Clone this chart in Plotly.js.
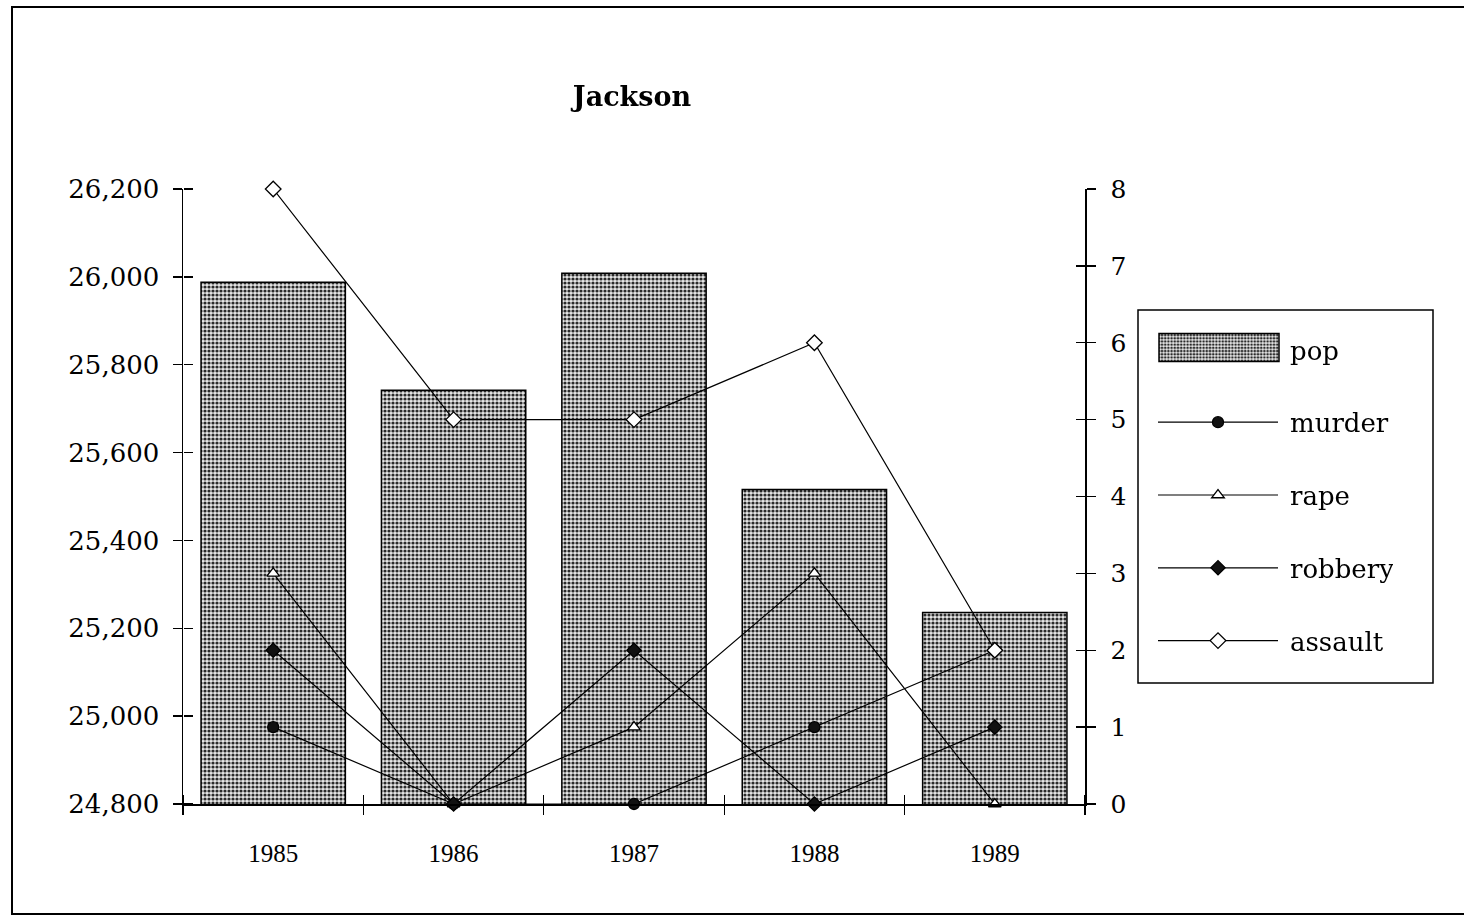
<!DOCTYPE html>
<html>
<head>
<meta charset="utf-8">
<script src="https://cdn.plot.ly/plotly-3.0.1.min.js"></script>
<style>
  html, body { margin: 0; padding: 0; background: #fff; }
  #chart { width: 1464px; height: 915px; }
  #frame { position: absolute; left: 11px; top: 6px; width: 1470px; height: 905px;
           border: 2px solid #000; pointer-events: none; }
</style>
</head>
<body>
<div id="chart"></div>
<div id="frame"></div>
<script>
const years = ["1985", "1986", "1987", "1988", "1989"];
const pop = [25988, 25742, 26008, 25516, 25236];
const murder = [1, 0, 0, 1, 2];
const rape = [3, 0, 1, 3, 0];
const robbery = [2, 0, 2, 0, 1];
const assault = [8, 5, 5, 6, 2];
const popTicks = [24800, 25000, 25200, 25400, 25600, 25800, 26000, 26200];
const crimeTicks = [0, 1, 2, 3, 4, 5, 6, 7, 8];

const serif = "DejaVu Serif, Liberation Serif, serif";

function lineTrace(name, vals, symbol, fill, size, group) {
  return {
    type: "scatter", mode: "lines+markers", name: name,
    x: years, y: vals, xaxis: "x", yaxis: "y2",
    legendgroup: group, cliponaxis: false,
    line: { color: "#000", width: 1.2 },
    marker: { symbol: symbol, size: size, color: fill, line: { color: "#000", width: 1.3 } }
  };
}

function helper(x, y, xa, ya) {
  return { type: "scatter", mode: "markers", x: x, y: y, xaxis: xa, yaxis: ya,
           opacity: 0, showlegend: false, hoverinfo: "skip" };
}

const traces = [
  {
    type: "bar", name: "pop", x: years, y: pop, xaxis: "x", yaxis: "y",
    legendgroup: "g0",
    marker: {
      color: "#bdbdbd",
      line: { color: "#000", width: 1.5 },
      pattern: { shape: ".", size: 4, solidity: 0.5, fgcolor: "#2a2a2a", bgcolor: "#e6e6e6" }
    }
  },
  lineTrace("murder", murder, "circle", "#111", 11, "g1"),
  lineTrace("rape", rape, "triangle-up", "#fff", 11, "g2"),
  lineTrace("robbery", robbery, "diamond", "#111", 11, "g3"),
  lineTrace("assault", assault, "diamond", "#fff", 12, "g4"),
  // invisible helpers so the inner tick-mark overlay axes get drawn
  helper(years, pop, "x", "y3"),
  helper(years.map((_, i) => i), murder, "x2", "y2"),
  helper(years, murder, "x", "y4")
];

const L = 183, R = 1085, T = 189, B = 804, W = 1464, H = 915;
const pw = R - L, ph = B - T;
const px = v => (v - L) / pw;
const py = v => (B - v) / ph;

const tickStyle = { ticklen: 9, tickwidth: 1.3, tickcolor: "#000" };

const layout = {
  width: W, height: H,
  margin: { l: L, r: W - R, t: T, b: H - B, pad: 0 },
  paper_bgcolor: "#fff", plot_bgcolor: "rgba(0,0,0,0)",
  showlegend: true,
  bargap: 0.2,
  title: {
    text: "Jackson", x: px(632), xref: "paper", xanchor: "center",
    y: 1 - 97 / H, yref: "container", yanchor: "middle",
    font: { family: serif, size: 27, color: "#000", weight: "bold" }
  },
  xaxis: Object.assign({
    type: "category", categoryorder: "array", categoryarray: years,
    tickson: "boundaries", ticks: "outside",
    showline: true, linecolor: "#000", linewidth: 1.5, showgrid: false, zeroline: false,
    tickfont: { family: "Liberation Serif, serif", size: 25, color: "#000" },
    ticklabelstandoff: 26
  }, tickStyle),
  // tick marks pointing up from the bottom axis line
  xaxis2: Object.assign({
    overlaying: "x", anchor: "free", position: 0, side: "top", type: "linear", range: [-0.5, 4.5],
    tickvals: [-0.5, 0.5, 1.5, 2.5, 3.5, 4.5],
    ticks: "outside",
    showticklabels: false, showline: false, showgrid: false, zeroline: false
  }, tickStyle),
  yaxis: Object.assign({
    range: [24800, 26200], tickvals: popTicks, tickformat: ",",
    ticks: "outside",
    showline: true, linecolor: "#000", linewidth: 1.5, showgrid: false, zeroline: false,
    tickfont: { family: serif, size: 26, color: "#000" },
    ticklabelstandoff: 8
  }, tickStyle),
  yaxis2: Object.assign({
    overlaying: "y", side: "right", anchor: "x", range: [0, 8], tickvals: crimeTicks,
    ticks: "outside",
    showline: true, linecolor: "#000", linewidth: 1.5, showgrid: false, zeroline: false,
    tickfont: { family: serif, size: 25, color: "#000" },
    ticklabelstandoff: 10
  }, tickStyle),
  // tick marks pointing right from the left axis line
  yaxis3: Object.assign({
    overlaying: "y", anchor: "free", position: 0, side: "right", range: [24800, 26200], tickvals: popTicks,
    ticks: "outside",
    showticklabels: false, showline: false, showgrid: false, zeroline: false
  }, tickStyle),
  yaxis4: Object.assign({
    overlaying: "y", side: "right", anchor: "x", range: [0, 8], tickvals: crimeTicks,
    ticks: "inside",
    showticklabels: false, showline: false, showgrid: false, zeroline: false
  }, tickStyle),
  legend: {
    x: px(1153), y: py(326), xref: "paper", yref: "paper", xanchor: "left", yanchor: "top",
    bgcolor: "rgba(0,0,0,0)", borderwidth: 0,
    font: { family: serif, size: 26, color: "#000" },
    traceorder: "grouped", tracegroupgap: 36, itemwidth: 120
  },
  shapes: [
    {
      type: "rect", xref: "paper", yref: "paper",
      x0: px(1138), x1: px(1433), y0: py(683), y1: py(310),
      line: { color: "#000", width: 1.5 }, fillcolor: "rgba(0,0,0,0)"
    }
  ]
};

Plotly.newPlot("chart", traces, layout, { displayModeBar: false, staticPlot: true }).then(gd => {
  const items = gd.querySelectorAll(".legend .traces");
  // widen the bar's legend swatch to a long rectangle, as in the original
  if (items[0]) {
    const p = items[0].querySelector(".legendpoints path");
    if (p) p.setAttribute("d", "M-59,12H61V-16H-59Z");
  }
  // leave a little more room between swatches and legend labels
  items.forEach(it => {
    const t = it.querySelector(".legendtext");
    if (t) t.setAttribute("x", String(parseFloat(t.getAttribute("x") || "0") + 7));
  });
});
</script>
</body>
</html>
